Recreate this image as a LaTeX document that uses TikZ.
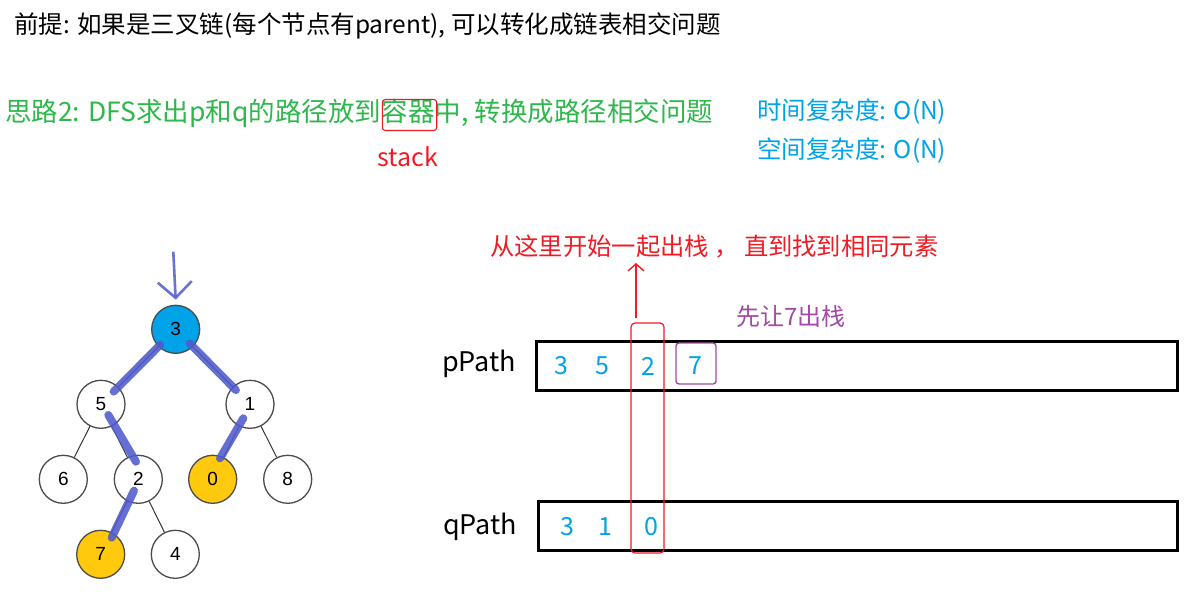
\documentclass[tikz,border=0pt]{standalone}
\usepackage{fontspec}
\setmainfont{Noto Sans CJK SC}
\newfontfamily\treefont{Liberation Sans}
\usetikzlibrary{arrows.meta,calc}
\definecolor{cgreen}{RGB}{46,184,76}
\definecolor{cblue}{RGB}{0,162,232}
\definecolor{cred}{RGB}{237,28,36}
\definecolor{cpurple}{RGB}{163,73,164}
\definecolor{chl}{RGB}{80,90,205}
\definecolor{cyellow}{RGB}{255,201,14}
\newcommand{\fs}[1]{\fontsize{#1}{#1}\selectfont}
\begin{document}
\begin{tikzpicture}[x=1pt,y=-1pt,
  txt/.style={anchor=west,inner sep=0pt},
  tnode/.style={circle,draw=black!70,line width=1.3pt,minimum size=48pt,inner sep=0pt,fill=white,font=\treefont\fs{19}},
  tedge/.style={draw=black!80,line width=1pt},
  hl/.style={draw=chl,line width=8pt,line cap=round,opacity=0.88},
  pathbox/.style={draw=black,line width=2.6pt,anchor=north west,inner sep=0pt},
  num/.style={inner sep=0pt,text=cblue,font=\fs{25}},
]
\useasboundingbox (0,0) rectangle (1196,610);

% header texts
\node[txt,font=\fs{24.5}] (title) at (14,26) {前提: 如果是三叉链(每个节点有parent), 可以转化成链表相交问题};
\node[txt,font=\fs{26.5},text=cgreen] (g1) at (5,113) {思路2: DFS求出p和q的路径放到};
\node[anchor=base west,inner sep=0pt,font=\fs{26.5},text=cgreen] (g2) at (g1.base east) {容器};
\node[anchor=base west,inner sep=0pt,font=\fs{26.5},text=cgreen] (g3) at (g2.base east) {中, 转换成路径相交问题};
\draw[cred,line width=1.1pt,rounded corners=3pt] ([xshift=1pt,yshift=-1pt]g2.north west) rectangle ([xshift=2pt,yshift=-7pt]g2.south east);
\node[anchor=center,inner sep=0pt,font=\fs{25},text=cred] (stack) at ([yshift=-157pt]g2.south |- 0,0) {stack};
\node[txt,font=\fs{24.5},text=cblue] (tc) at (757,112) {时间复杂度: O(N)};
\node[txt,font=\fs{24.5},text=cblue] (sc) at (757,151) {空间复杂度: O(N)};

% tree
\node[tnode,fill=cblue] (n3) at (175.7,329.3) {3};
\node[tnode] (n5) at (101,404.3) {5};
\node[tnode] (n1) at (250,404.3) {1};
\node[tnode] (n6) at (63.3,479.3) {6};
\node[tnode] (n2) at (138.3,479.3) {2};
\node[tnode,fill=cyellow] (n0) at (212.7,479.3) {0};
\node[tnode] (n8) at (287.7,479.3) {8};
\node[tnode,fill=cyellow] (n7) at (100.7,554.3) {7};
\node[tnode] (n4) at (175.3,554.3) {4};
\foreach \a/\b in {n3/n5,n3/n1,n5/n6,n5/n2,n1/n0,n1/n8,n2/n7,n2/n4}
  \draw[tedge] (\a) -- (\b);
\draw[hl] ($(n3)!22pt!(n5)$) -- ($(n5)!18pt!(n3)$);
\draw[hl] ($(n3)!20pt!(n1)$) -- ($(n1)!20pt!(n3)$);
\draw[hl] (108.3,415) -- (136,461.7);
\draw[hl] (243.3,418.3) -- (220,458.3);
\draw[hl] (134,490.7) -- (111.7,537.7);
\coordinate (arrtop) at (173.3,251.7);
\draw[chl,line width=2.6pt,opacity=0.85,-{Straight Barb[length=16pt,width=34pt]}] (arrtop) -- ([yshift=5pt]n3.north);

% paths
\node[txt,font=\fs{27}] (plabel) at (442,364) {pPath};
\node[txt,font=\fs{27}] (qlabel) at (443,527) {qPath};
\node[pathbox,minimum width=641pt,minimum height=49pt] (pbox) at (535,340) {};
\node[pathbox,minimum width=639pt,minimum height=49pt] (qbox) at (537,500) {};
\node[num] (p3) at (561,366) {3};
\node[num] (p5) at (602,366) {5};
\node[num] (p2) at (648,366) {2};
\node[num] (p7) at (695,366) {7};
\node[num] (q3) at (567,527) {3};
\node[num] (q1) at (605,527) {1};
\node[num] (q0) at (651,527) {0};

% highlights
\draw[cpurple,line width=1.4pt,rounded corners=3pt] (676,343) rectangle (716,384);
\node[txt,font=\fs{24},text=cpurple] (tip7) at (736,316) {先让7出栈};
\draw[cred,line width=1.2pt,rounded corners=4pt] (631,323) rectangle (664,553);
\coordinate (redbot) at (636,318);
\node[txt,font=\fs{24.3},text=cred] (redtxt) at (490,247) {从这里开始一起出栈 ， 直到找到相同元素};
\draw[cred,line width=1.4pt,-{Straight Barb[length=7pt,width=16pt]}] (redbot) -- (636,263);
\end{tikzpicture}
\end{document}
